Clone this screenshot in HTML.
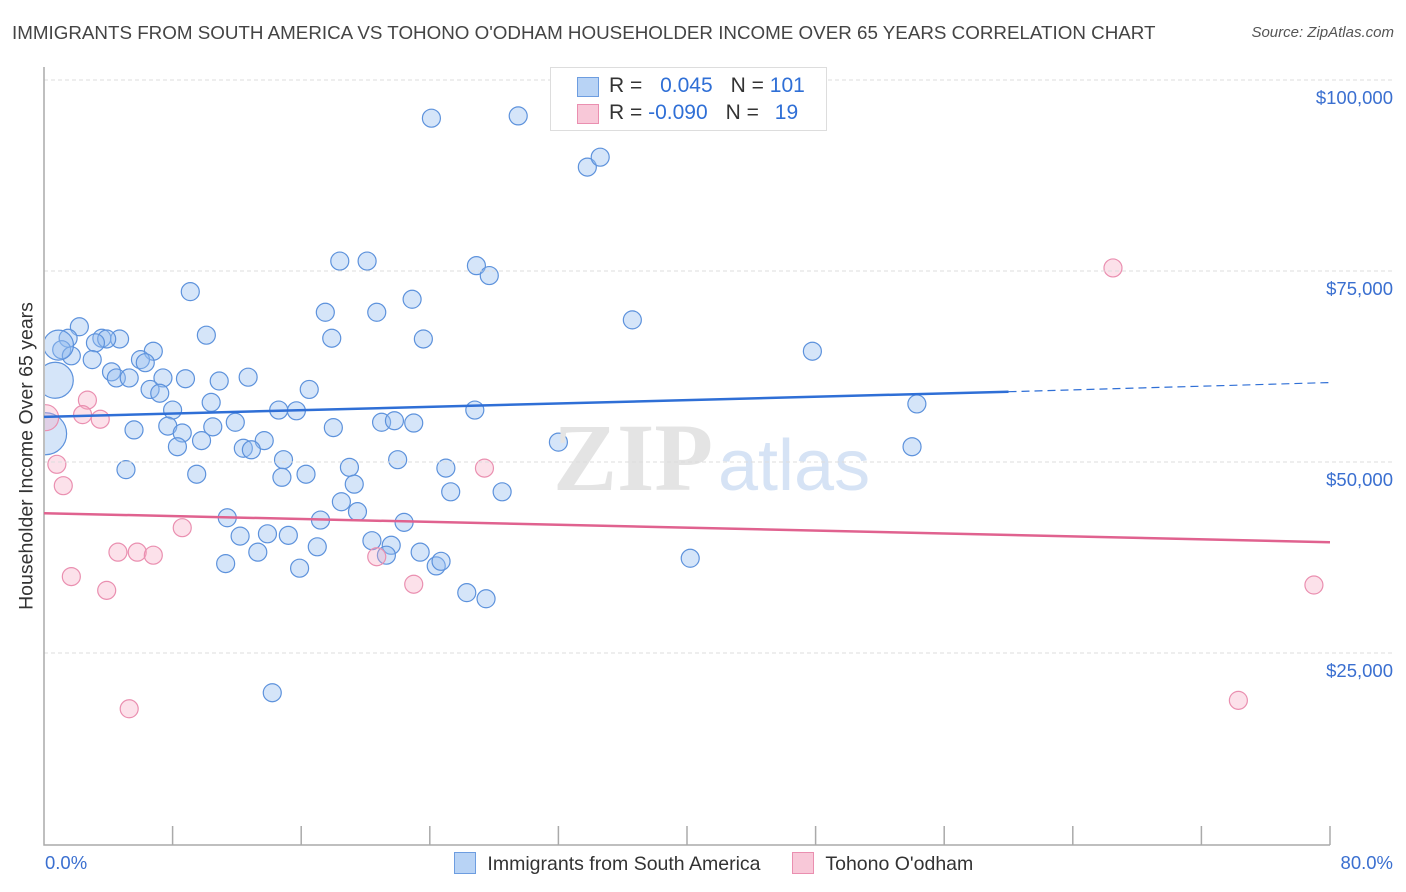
<!DOCTYPE html>
<html><head><meta charset="utf-8"><style>
body{margin:0;background:#fff;font-family:"Liberation Sans",sans-serif}
#c{position:relative;width:1406px;height:892px;overflow:hidden}
</style></head><body><div id="c">
<div style="position:absolute;left:12px;top:22px;font-size:18.8px;color:#444;white-space:nowrap">IMMIGRANTS FROM SOUTH AMERICA VS TOHONO O'ODHAM HOUSEHOLDER INCOME OVER 65 YEARS CORRELATION CHART</div>
<div style="position:absolute;right:12px;top:24px;font-size:15px;color:#555;font-style:italic">Source: ZipAtlas.com</div>
<svg id="s" width="1406" height="892" style="position:absolute;left:0;top:0"><defs><clipPath id="pc"><rect x="45" y="60" width="1361" height="785"/></clipPath></defs><g id="g" clip-path="url(#pc)"></g></svg>
</div>
<script>
const bluePct=[24.1,29.5,33.8,34.6,18.4,20.1,26.9,27.7,9.1,22.9,17.5,20.7,36.6,10.1,17.9,23.6,47.8,2.2,1.5,3.6,4.7,3.9,3.2,1.1,1.7,3.0,6.8,6.0,6.3,4.2,4.5,5.3,7.4,8.8,10.9,12.7,16.5,6.6,7.2,10.4,8.0,14.6,15.7,26.8,54.3,11.9,21.0,21.8,23.0,7.7,5.6,8.6,10.5,18.0,9.8,13.7,12.4,12.9,8.3,32.0,54.0,14.9,22.0,5.1,9.5,14.8,16.3,19.0,25.0,19.3,25.3,28.5,18.5,19.5,11.4,17.2,22.4,12.2,13.9,15.2,17.0,20.4,21.6,23.4,13.3,21.3,11.3,15.9,24.4,24.7,40.2,26.3,27.5,14.2,0.7,0.1,0.9];
const blueVal=[95.0,95.3,88.6,89.9,76.3,76.3,75.7,74.4,72.3,71.3,69.6,69.6,68.6,66.6,66.2,66.1,64.5,67.7,66.2,66.2,66.1,66.1,65.6,64.7,63.9,63.4,64.5,63.4,63.0,61.8,61.0,61.0,61.0,60.9,60.6,61.1,59.5,59.5,59.0,57.8,56.8,56.8,56.7,56.8,57.6,55.2,55.2,55.4,55.1,54.7,54.2,53.8,54.6,54.5,52.8,52.8,51.8,51.6,52.0,52.6,52.0,50.3,50.3,49.0,48.4,48.0,48.4,49.3,49.2,47.1,46.1,46.1,44.8,43.5,42.7,42.4,42.1,40.3,40.6,40.4,38.9,39.7,39.1,38.2,38.2,37.8,36.7,36.1,36.4,37.0,37.4,32.9,32.1,19.8,60.7,53.7,65.3];
const blueSize=[9,9,9,9,9,9,9,9,9,9,9,9,9,9,9,9,9,9,9,9,9,9,9,9,9,9,9,9,9,9,9,9,9,9,9,9,9,9,9,9,9,9,9,9,9,9,9,9,9,9,9,9,9,9,9,9,9,9,9,9,9,9,9,9,9,9,9,9,9,9,9,9,9,9,9,9,9,9,9,9,9,9,9,9,9,9,9,9,9,9,9,9,9,9,18,21,15];
const pinkPct=[66.5,0.1,0.8,2.7,2.4,3.5,1.2,8.6,4.6,5.8,6.8,1.7,3.9,20.7,23.0,27.4,79.0,74.3,5.3];
const pinkVal=[75.4,55.8,49.7,58.1,56.2,55.6,46.9,41.4,38.2,38.2,37.8,35.0,33.2,37.6,34.0,49.2,33.9,18.8,17.7];
const pinkSize=[9,13,9,9,9,9,9,9,9,9,9,9,9,9,9,9,9,9,9];
const yTicks=[25,50,75,100];
const yTickLabels=["$25,000","$50,000","$75,000","$100,000"];
const blueTrend=[[0,55.9],[60,59.2],[80,60.4]];
const pinkTrend=[[0,43.3],[80,39.5]];
const X=p=>44+p*1286/80, Y=v=>844-v*191/25;
const s=document.getElementById('s'),g=document.getElementById('g'),NS='http://www.w3.org/2000/svg';
function mk(t,a,txt,par){const e=document.createElementNS(NS,t);for(const k in a)e.setAttribute(k,a[k]);if(txt!==undefined)e.textContent=txt;(par||s).appendChild(e);return e;}
let w=mk('text',{x:553,y:490,'font-size':96,fill:'#e4e4e4','font-family':'Liberation Serif,serif','font-weight':'bold'},'ZIP');


w=mk('text',{x:718,y:490,'font-size':72,fill:'#d6e3f5','font-family':'Liberation Sans,sans-serif'},'atlas');


yTicks.forEach((t,i)=>{
 let l=mk('line',{x1:44,x2:1393,y1:Y(t),y2:Y(t),stroke:'#ddd','stroke-dasharray':'4,3'});
 
 
 let tx=mk('text',{x:1393,y:Y(t)+24,'text-anchor':'end','font-size':18.5,fill:'#3a6fd0'},yTickLabels[i]);
 
 
});
function pts(P,V,S,fill,stroke,name){P.forEach((p,i)=>{const c=mk('circle',{cx:X(p),cy:Y(V[i]),r:S[i],fill:fill,stroke:stroke,'stroke-width':1.2},undefined,g);
 
 });}
pts(bluePct,blueVal,blueSize,'rgba(150,190,240,0.4)','#5d92dc','point-south-america');
pts(pinkPct,pinkVal,pinkSize,'rgba(245,170,195,0.35)','#ea8fb0','point-tohono-oodham');
let ax=mk('path',{d:'M44 67V845H1330',stroke:'#aaa',fill:'none','stroke-width':1.5});


for(let i=1;i<=10;i++){let t=mk('line',{x1:X(i*8),x2:X(i*8),y1:826,y2:845,stroke:'#aaa','stroke-width':1.5});
 
 }
let l=mk('line',{x1:X(blueTrend[0][0]),y1:Y(blueTrend[0][1]),x2:X(blueTrend[1][0]),y2:Y(blueTrend[1][1]),stroke:'#2f6fd6','stroke-width':2.5});


l=mk('line',{x1:X(blueTrend[1][0]),y1:Y(blueTrend[1][1]),x2:X(blueTrend[2][0]),y2:Y(blueTrend[2][1]),stroke:'#2f6fd6','stroke-width':1.2,'stroke-dasharray':'8,5'});


l=mk('line',{x1:X(pinkTrend[0][0]),y1:Y(pinkTrend[0][1]),x2:X(pinkTrend[1][0]),y2:Y(pinkTrend[1][1]),stroke:'#e0628f','stroke-width':2.5});


</script>
<div style="position:absolute;left:27px;top:456px;transform:translate(-50%,-50%) rotate(-90deg);font-size:19.5px;color:#333;white-space:nowrap">Householder Income Over 65 years</div>
<div style="position:absolute;left:45px;top:852px;font-size:18.5px;color:#3a6fd0">0.0%</div>
<div style="position:absolute;right:13px;top:852px;font-size:18.5px;color:#3a6fd0">80.0%</div>
<div style="position:absolute;left:550px;top:67px;width:275px;height:62px;border:1px solid #ddd;background:#fff;font-size:21px;color:#333;white-space:nowrap">
 <div style="position:absolute;left:26px;top:9px;width:20px;height:18px;background:#b8d3f5;border:1px solid #6d9de0"></div>
 <div style="position:absolute;left:58px;top:6px">R = <span style="color:#2f6fd6;margin-left:12px">0.045</span><span style="margin-left:18px">N =</span> <span style="color:#2f6fd6">101</span></div>
 <div style="position:absolute;left:26px;top:36px;width:20px;height:18px;background:#f8c8d8;border:1px solid #ea8fb0"></div>
 <div style="position:absolute;left:58px;top:33px">R = <span style="color:#2f6fd6">-0.090</span><span style="margin-left:18px">N =</span> <span style="color:#2f6fd6;margin-left:10px">19</span></div>
</div>
<div style="position:absolute;left:454px;top:852px;font-size:19.5px;color:#333;white-space:nowrap">
 <span style="display:inline-block;width:20px;height:20px;background:#b8d3f5;border:1px solid #6d9de0;vertical-align:-4px"></span>
 <span style="margin-left:6px">Immigrants from South America</span>
 <span style="display:inline-block;width:20px;height:20px;background:#f8c8d8;border:1px solid #ea8fb0;vertical-align:-4px;margin-left:26px"></span>
 <span style="margin-left:6px">Tohono O'odham</span>
</div>
</body></html>
